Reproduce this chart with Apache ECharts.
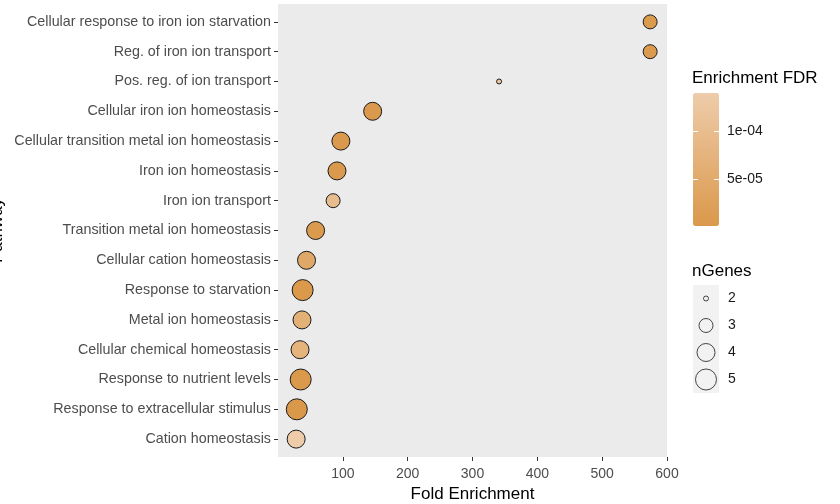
<!DOCTYPE html>
<html>
<head>
<meta charset="utf-8">
<script src="https://cdn.jsdelivr.net/npm/echarts@6/dist/echarts.min.js"></script>
<style>html,body{margin:0;padding:0;background:#fff}#c{width:840px;height:504px}</style>
</head>
<body>
<div id="c"></div>
<script>
const categories = [
  'Cellular response to iron ion starvation',
  'Reg. of iron ion transport',
  'Pos. reg. of ion transport',
  'Cellular iron ion homeostasis',
  'Cellular transition metal ion homeostasis',
  'Iron ion homeostasis',
  'Iron ion transport',
  'Transition metal ion homeostasis',
  'Cellular cation homeostasis',
  'Response to starvation',
  'Metal ion homeostasis',
  'Cellular chemical homeostasis',
  'Response to nutrient levels',
  'Response to extracellular stimulus',
  'Cation homeostasis'
];
const foldEnrichment = [574, 574, 341, 146, 97, 91, 85, 58, 44, 38, 37, 34, 35, 29, 28];
const nGenes = [3, 3, 2, 4, 4, 4, 3, 4, 4, 5, 4, 4, 5, 5, 4];
const fdr = [8e-6, 8e-6, 1.2e-4, 5e-6, 5e-6, 5e-6, 1.0e-4, 8e-6, 4.5e-5, 3e-6, 6.5e-5, 7.5e-5, 3e-6, 1e-6, 1.4e-4];
const xTicks = [100, 200, 300, 400, 500, 600];
const fdrTicks = [5e-5, 1e-4];
const fdrTickLabels = ['5e-05', '1e-04'];
const sizeLevels = [2, 3, 4, 5];

const FONT = 'Liberation Sans, Arial, sans-serif';
const AXIS_TEXT = '#4D4D4D';
const sizeFor = n => ({2: 5, 3: 14, 4: 18, 5: 21})[n];
const fdrMin = Math.min(...fdr), fdrMax = Math.max(...fdr);
const rowIdx = categories.map((_, i) => i);

const chart = echarts.init(document.getElementById('c'), null, {renderer: 'canvas'});
chart.setOption({
  animation: false,
  backgroundColor: '#fff',
  textStyle: {fontFamily: FONT},
  title: [
    {text: 'Enrichment FDR', left: 692, top: 70, padding: 0,
     textStyle: {fontSize: 17, fontWeight: 'normal', color: '#000', fontFamily: FONT}},
    {text: 'nGenes', left: 692, top: 263, padding: 0,
     textStyle: {fontSize: 17, fontWeight: 'normal', color: '#000', fontFamily: FONT}}
  ],
  grid: [
    {left: 278, top: 4, width: 389, height: 453, show: true, backgroundColor: '#EBEBEB', borderWidth: 0, outerBoundsMode: 'none', containLabel: false},
    {left: 693, top: 93, width: 26, height: 133, show: false, outerBoundsMode: 'none', containLabel: false},
    {left: 693, top: 285, width: 26, height: 108, show: true, backgroundColor: '#F2F2F2', borderWidth: 0, outerBoundsMode: 'none', containLabel: false}
  ],
  xAxis: [
    {gridIndex: 0, type: 'value', min: 0, max: 600, position: 'bottom',
     name: 'Fold Enrichment', nameLocation: 'middle', nameGap: 29,
     nameTextStyle: {fontSize: 17, color: '#000', fontFamily: FONT},
     axisLine: {show: false, onZero: false},
     axisTick: {show: true, length: 4, lineStyle: {color: '#333', width: 1}, customValues: xTicks},
     axisLabel: {show: true, fontSize: 14, color: AXIS_TEXT, margin: 10, customValues: xTicks, fontFamily: FONT},
     splitLine: {show: false}},
    {gridIndex: 1, type: 'value', show: false, min: 0, max: 1, axisLine: {onZero: false}},
    {gridIndex: 2, type: 'value', show: false, min: 0, max: 1, axisLine: {onZero: false}}
  ],
  yAxis: [
    {gridIndex: 0, type: 'value', inverse: true, min: -0.6, max: 14.6, position: 'left',
     name: 'Pathway', nameLocation: 'middle', nameGap: 272,
     nameTextStyle: {fontSize: 17, color: '#000', fontFamily: FONT},
     axisLine: {show: false, onZero: false},
     axisTick: {show: true, length: 4, lineStyle: {color: '#333', width: 1}, customValues: rowIdx},
     axisLabel: {show: true, fontSize: 14.3, color: AXIS_TEXT, margin: 7, customValues: rowIdx,
                 formatter: v => categories[Math.round(v)], fontFamily: FONT},
     splitLine: {show: false}},
    {gridIndex: 1, type: 'value', min: fdrMin, max: fdrMax, position: 'right', z: 10,
     axisLine: {show: false, onZero: false},
     axisTick: {show: true, inside: true, length: 5, lineStyle: {color: '#fff', width: 1}, customValues: fdrTicks},
     axisLabel: {show: true, fontSize: 14, color: '#1a1a1a', margin: 8, customValues: fdrTicks,
                 formatter: v => fdrTickLabels[fdrTicks.indexOf(v)], fontFamily: FONT},
     splitLine: {show: false}},
    {gridIndex: 1, type: 'value', min: fdrMin, max: fdrMax, position: 'left', z: 10,
     axisLine: {show: false, onZero: false},
     axisTick: {show: true, inside: true, length: 5, lineStyle: {color: '#fff', width: 1}, customValues: fdrTicks},
     axisLabel: {show: false},
     splitLine: {show: false}},
    {gridIndex: 2, type: 'category', inverse: true, position: 'right', data: sizeLevels.map(String),
     axisLine: {show: false, onZero: false}, axisTick: {show: false},
     axisLabel: {show: true, fontSize: 14, color: '#1a1a1a', margin: 9, fontFamily: FONT},
     splitLine: {show: false}}
  ],
  visualMap: {
    type: 'continuous', seriesIndex: 0, dimension: 2,
    min: fdrMin, max: fdrMax,
    inRange: {color: ['#DA984A', '#EECCAA']},
    left: 693, top: 93, itemWidth: 26, itemHeight: 133, padding: 0,
    calculable: false, hoverLink: false, text: null, show: true
  },
  series: [
    {type: 'scatter', xAxisIndex: 0, yAxisIndex: 0,
     data: categories.map((c, i) => [foldEnrichment[i], i, fdr[i], nGenes[i], c]),
     symbolSize: d => sizeFor(d[3]),
     itemStyle: {borderColor: '#1a1a1a', borderWidth: 1, opacity: 1}},
    {type: 'scatter', xAxisIndex: 2, yAxisIndex: 3,
     data: sizeLevels.map((n, i) => [0.5, i, n]),
     symbolSize: d => sizeFor(d[2]),
     itemStyle: {color: 'rgba(0,0,0,0)', borderColor: '#1a1a1a', borderWidth: 1}}
  ]
});
</script>
</body>
</html>
